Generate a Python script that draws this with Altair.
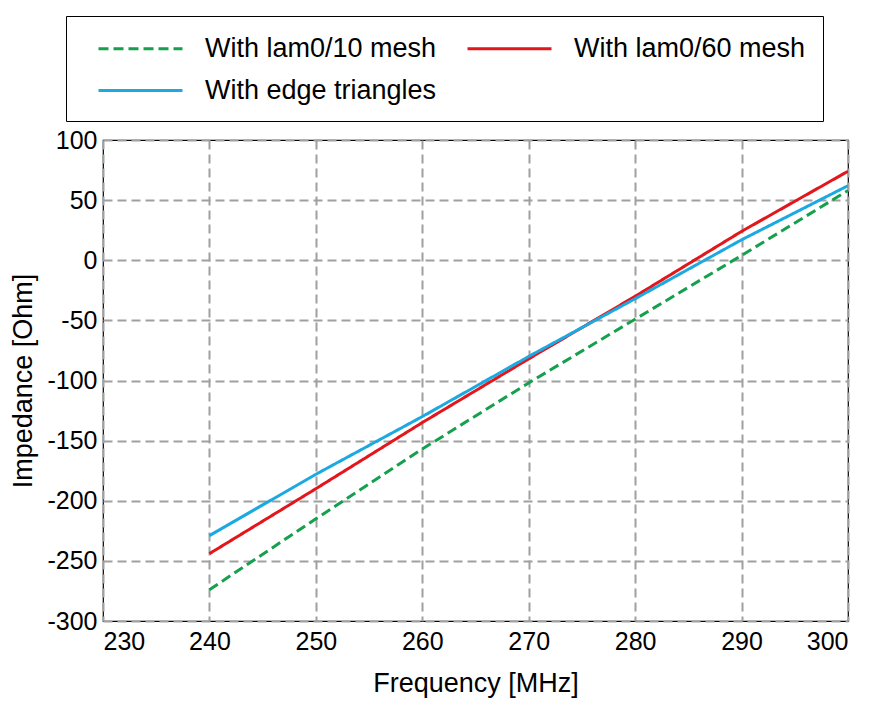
import altair as alt
import pandas as pd

freq = [240, 250, 260, 270, 280, 290, 300]
lam10 = [-274, -215, -157, -102, -49, 4, 58]
lam60 = [-244, -190, -135, -82, -30, 24, 74]
edge = [-229, -178, -130, -80, -32, 17, 62]

names = ["With lam0/10 mesh", "With lam0/60 mesh", "With edge triangles"]
colors = ["#14a04c", "#e3161c", "#1ca9e1"]
dashes = [[10, 5], [1, 0], [1, 0]]

rows = []
for name, vals in zip(names, [lam10, lam60, edge]):
    for f, v in zip(freq, vals):
        rows.append({"Frequency": f, "Impedance": v, "Series": name})
df = pd.DataFrame(rows)

FONT = "Liberation Sans"

legend = alt.Legend(
    title=None,
    orient="none",
    legendX=-37,
    legendY=-124,
    columns=2,
    direction="horizontal",
    strokeColor="black",
    padding=17,
    symbolOffset=14,
    symbolType="M-1,0L5,0",
    symbolSize=784,
    symbolStrokeWidth=3,
    labelFont=FONT,
    labelFontSize=27,
    labelColor="black",
    labelLimit=500,
    labelOffset=77,
    columnPadding=15,
    rowPadding=13,
    fillColor="white",
)

x_vals = list(range(230, 301, 10))
y_vals = list(range(-300, 101, 50))

chart = alt.Chart(df).mark_line(strokeWidth=3, clip=True).encode(
    x=alt.X("Frequency:Q",
            scale=alt.Scale(domain=[230, 300], nice=False, zero=False),
            axis=alt.Axis(values=x_vals, title="Frequency [MHz]", labelExpr="'' + datum.value")),
    y=alt.Y("Impedance:Q",
            scale=alt.Scale(domain=[-300, 100], nice=False, zero=False),
            axis=alt.Axis(values=y_vals, title="Impedance [Ohm]", labelExpr="'' + datum.value")),
    color=alt.Color("Series:N", scale=alt.Scale(domain=names, range=colors), legend=legend),
    strokeDash=alt.StrokeDash("Series:N", scale=alt.Scale(domain=names, range=dashes), legend=legend),
    order=alt.Order("Frequency:Q"),
).properties(
    width=745,
    height=481,
    padding={"left": 95, "top": 132, "right": 25, "bottom": 78},
    autosize=alt.AutoSizeParams(type="none"),
).configure_view(
    stroke="black", strokeWidth=1.2
).configure_axis(
    domain=False,
    ticks=False,
    grid=True,
    gridColor="#a0a0a0",
    gridDash=[9, 5],
    gridWidth=2,
    labelFont=FONT,
    labelFontSize=25,
    labelColor="black",
    titleFont=FONT,
    titleFontSize=27,
    titleFontWeight="normal",
    titleColor="black",
).configure_axisY(
    labelPadding=6,
    titlePadding=9,
).configure_axisX(
    labelPadding=8,
    titlePadding=16,
)

chart.save("out.html", embed_options={"renderer": "svg", "actions": False})
